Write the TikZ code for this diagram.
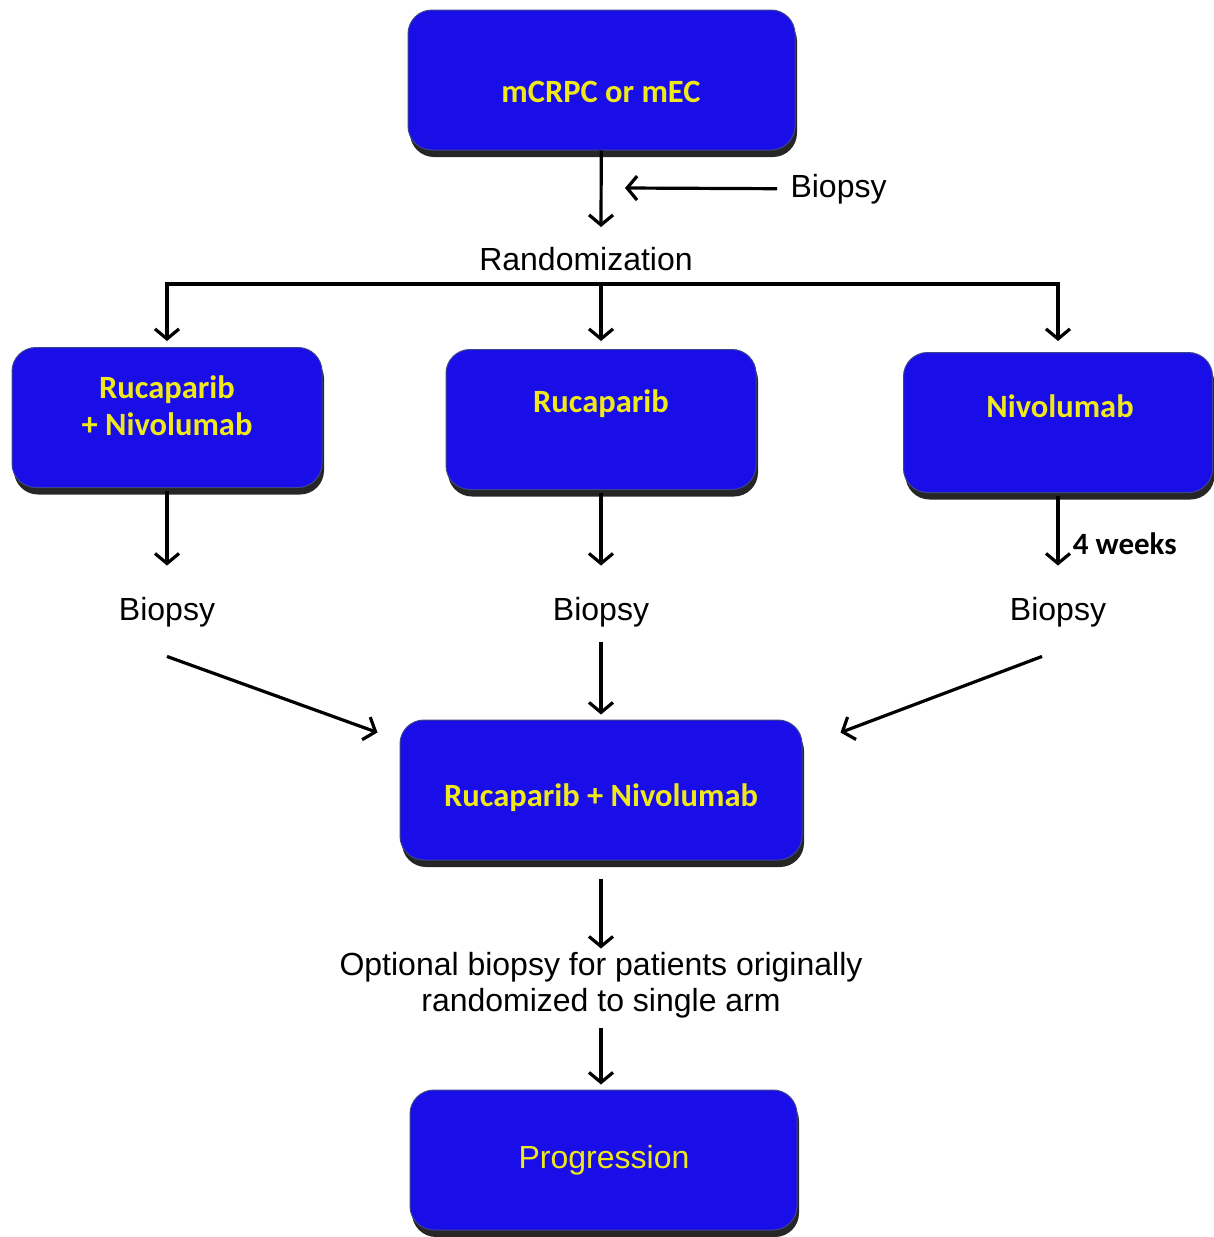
\documentclass[tikz,border=0pt]{standalone}
\usepackage{fontspec}
\setmainfont{Liberation Sans}
\newfontfamily\boxfont{Carlito}
\usetikzlibrary{arrows.meta,positioning,shadows}
\definecolor{armblue}{RGB}{26,14,232}
\definecolor{armyellow}{RGB}{238,232,28}
\definecolor{armedge}{RGB}{60,70,140}

\begin{document}
\begin{tikzpicture}[x=1pt, y=-1pt,
	arm/.style={draw=armedge, line width=1pt, rounded corners=24pt, fill=armblue, minimum height=140pt,
		drop shadow={shadow xshift=2pt, shadow yshift=-7pt, opacity=0.85, fill=black}},
	armtext/.style={text=armyellow, font=\boxfont\bfseries\fontsize{32.5}{37}\selectfont, align=center},
	lbl/.style={font=\fontsize{32}{36}\selectfont, align=center},
	arr/.style={line width=3.2pt, -{Straight Barb[length=10pt, width=24pt]}}]
	\useasboundingbox (0,0) rectangle (1214,1237);
	% Nodes
	\node[arm, minimum width=387pt] (mcrpc) at (601.5,80) {};
	\node[armtext] (mcrpc-t) at (601,92) {mCRPC or mEC};
	\node[lbl] (rand) at (586,259) {Randomization};
	\node[lbl, anchor=west] (biopsy0) at (787,189) {Biopsy};
	\coordinate (randin) at (601,227);
	\coordinate (biopsyin) at (625,188);
	\coordinate (split) at (601,284);
	
	\node[arm, minimum width=310pt] (rucnivo) at (167,417.5) {};
	\node[armtext] (rucnivo-t) at (167,406) {Rucaparib\\+ Nivolumab};
	\node[arm, minimum width=310pt] (ruca) at (601,419.5) {};
	\node[armtext] (ruca-t) at (601,404) {Rucaparib};
	\node[arm, minimum width=309pt] (nivo) at (1058,422.5) {};
	\node[armtext] (nivo-t) at (1060,406) {Nivolumab};
	
	\node[lbl] (biopsy1) at (167,612) {Biopsy};
	\node[lbl] (biopsy2) at (601,612) {Biopsy};
	\node[lbl] (biopsy3) at (1058,612) {Biopsy};
	
	\node[arm, minimum width=402pt] (both) at (601,790) {};
	\node[armtext] (both-t) at (601,798) {Rucaparib + Nivolumab};
	\node[lbl] (optional) at (601,985) {Optional biopsy for patients originally\\randomized to single arm};
	\node[arm, minimum width=387pt] (prog) at (603.5,1160) {};
	\node[armtext, font=\fontsize{32}{37}\selectfont] (prog-t) at (604,1160) {Progression};
	
	% Arrows
	\draw[arr] (mcrpc) -- (randin);
	\draw[arr, shorten <=10pt] (biopsy0) -- (biopsyin);
	\draw[arr, shorten >=6pt] (split) -| (rucnivo);
	\draw[arr, shorten >=8pt] (split) -- (split |- ruca.north);
	\draw[arr, shorten >=11pt] (split) -| (nivo);
	
	\draw[arr, shorten <=3pt, shorten >=28pt] (rucnivo) -- (biopsy1);
	\draw[arr, shorten <=3pt, shorten >=28pt] (ruca) -- (biopsy2);
	\draw[arr, shorten <=3pt, shorten >=28pt] (nivo) -- node[midway, right=10pt, font=\boxfont\bfseries\fontsize{31}{36}\selectfont] (weeks) {4 weeks} (biopsy3);
	
	\draw[arr] ([yshift=-26pt]biopsy1.south) -- ([xshift=-22pt, yshift=-13pt]both.north west);
	\draw[arr, shorten <=12pt, shorten >=5pt] (biopsy2) -- (both);
	\draw[arr] ([xshift=-16pt, yshift=-26pt]biopsy3.south) -- ([xshift=38pt, yshift=-13pt]both.north east);
	
	\draw[arr, shorten <=18pt] (both) -- (optional);
	\draw[arr, shorten <=7pt, shorten >=5pt] (optional) -- (optional |- prog.north);
\end{tikzpicture}
\end{document}
